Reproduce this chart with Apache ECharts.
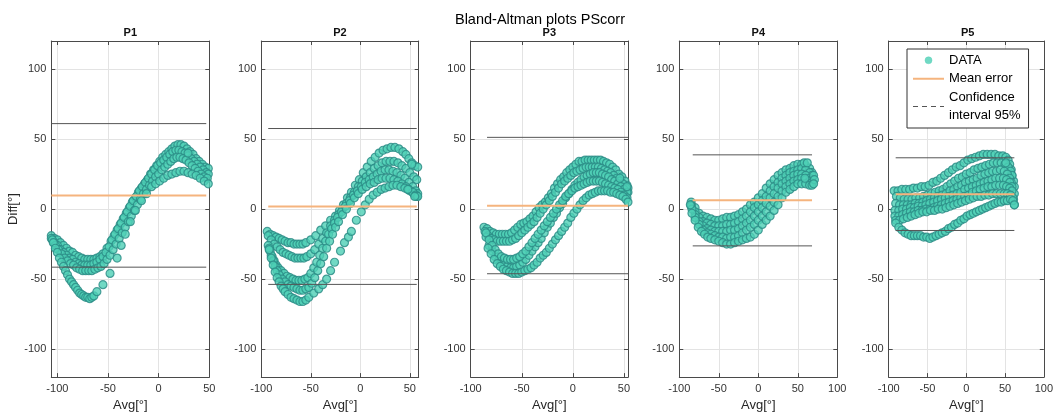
<!DOCTYPE html>
<html><head><meta charset="utf-8">
<script src="https://cdn.jsdelivr.net/npm/echarts@6/dist/echarts.min.js"></script>
<style>html,body{margin:0;padding:0;background:#fff}#c{width:1056px;height:417px}</style>
</head><body><div id="c"></div><script>
// ---------- data ----------
const mainTitle = 'Bland-Altman plots PScorr';
const panelTitles = ['P1','P2','P3','P4','P5'];
const xMin = [-106,-100,-100,-100,-100];
const xMax = [50,59,54,100,100];
const xTicks = [[-100,-50,0,50],[-100,-50,0,50],[-100,-50,0,50],[-100,-50,0,50,100],[-100,-50,0,50,100]];
const yTicks = [-100,-50,0,50,100];
const yMin = -120, yMax = 120;
const meanErr = [9.7,1.9,2.3,6.3,10.6];
const ciUpper = [61.0,57.5,51.2,38.7,36.6];
const ciLower = [-41.5,-53.8,-46.2,-26.3,-15.3];
const avgStart = [-106,-93,-84,-83,-91];
const avgEnd = [47,57,54,68,62];

const p1a = [[-106,-19],[-103,-21],[-100,-22],[-97,-24],[-94,-26],[-91,-28],[-88,-30],[-85,-31],[-82,-33],[-79,-34],[-76,-35],[-73,-36],[-70,-36],[-67,-36],[-64,-36],[-61,-35],[-58,-34],[-55,-32],[-51,-28],[-47,-23],[-44,-19],[-41,-15],[-38,-11],[-35,-7],[-32,-3],[-29,1],[-26,5],[-23,8],[-20,12],[-17,15],[-14,18],[-11,21],[-8,25],[-5,28],[-2,31],[1,34],[4,37],[7,39],[10,41],[13,43],[16,45],[19,46],[22,46],[25,45],[28,43],[31,41],[34,39],[37,36],[40,34],[43,32],[46,30],[49,29]];
const p1b = [[-106,-21],[-103,-24],[-100,-26],[-97,-29],[-94,-31],[-91,-33],[-88,-35],[-85,-36],[-82,-38],[-79,-39],[-76,-40],[-73,-40],[-70,-40],[-67,-40],[-64,-39],[-61,-38],[-58,-36],[-55,-34],[-52,-31],[-49,-27],[-46,-22],[-43,-18],[-40,-14],[-37,-10],[-34,-6],[-31,-2],[-28,2],[-25,6],[-22,9],[-19,13],[-16,16],[-13,19],[-10,22],[-7,25],[-4,28],[-1,31],[2,33],[5,35],[8,37],[11,39],[14,41],[17,42],[20,42],[23,41],[26,40],[29,38],[32,36],[35,34],[38,32],[41,30],[44,28],[47,26],[49,25]];
const p1c = [[-105,-22],[-102,-26],[-99,-29],[-96,-32],[-93,-35],[-90,-37],[-87,-39],[-84,-40],[-81,-42],[-78,-43],[-75,-44],[-72,-44],[-69,-44],[-66,-44],[-63,-43],[-60,-42],[-57,-41],[-54,-39],[-51,-36],[-48,-33],[-45,-29],[-42,-25],[-39,-21],[-36,-17],[-33,-13],[-30,-9],[-27,-5],[-24,-1],[-21,3],[-18,7],[-15,11],[-12,14],[-9,17],[-6,20],[-3,23],[0,25],[3,28],[6,30],[9,32],[12,34],[15,36],[18,37],[21,37],[24,36],[27,35],[30,33],[33,31],[36,29],[39,27],[42,25],[45,23],[48,22]];
const p1d = [[-104,-24],[-102,-28],[-100,-31],[-98,-35],[-96,-38],[-94,-41],[-92,-44],[-90,-47],[-88,-50],[-86,-52],[-84,-54],[-82,-56],[-80,-58],[-78,-60],[-76,-61],[-74,-62],[-72,-63],[-70,-63],[-68,-64],[-66,-63],[-64,-62],[-61,-59],[-55,-54],[-48,-46],[-41,-35],[-37,-26],[-33,-18],[-28,-9],[-23,-1],[-17,6],[-12,11],[-7,16],[-3,18],[1,20],[5,22],[9,24],[13,25],[17,26],[21,27],[25,27],[29,26],[33,25],[37,24],[41,22],[45,20],[49,18]];
const p1x = [[29,40]];

const p2a = [[-94,-16],[-91,-18],[-88,-19],[-85,-20],[-82,-21],[-79,-22],[-76,-23],[-73,-24],[-70,-24],[-67,-25],[-64,-25],[-61,-25],[-58,-25],[-55,-24],[-50,-22],[-45,-19],[-40,-15],[-35,-12],[-30,-8],[-25,-5],[-21,-1],[-17,3],[-13,8],[-9,12],[-5,17],[-1,21],[3,26],[7,30],[11,34],[15,37],[19,40],[23,42],[27,43],[31,44],[35,44],[39,43],[43,41],[46,39],[49,36],[52,33],[55,31],[58,30]];
const p2b = [[-93,-19],[-90,-22],[-87,-25],[-84,-27],[-81,-29],[-78,-31],[-75,-32],[-72,-33],[-69,-34],[-66,-35],[-63,-35],[-60,-35],[-57,-35],[-54,-34],[-50,-32],[-46,-29],[-42,-25],[-38,-21],[-34,-17],[-30,-12],[-26,-8],[-22,-4],[-18,0],[-14,4],[-10,8],[-6,12],[-2,16],[2,20],[6,23],[10,26],[14,29],[18,31],[22,33],[26,34],[30,34],[34,34],[38,33],[42,31],[46,29],[50,26],[54,23],[57,21]];
const p2c = [[-93,-26],[-91,-30],[-89,-34],[-87,-37],[-85,-40],[-83,-42],[-80,-44],[-77,-46],[-74,-48],[-71,-49],[-68,-50],[-65,-51],[-62,-51],[-59,-51],[-56,-50],[-53,-49],[-50,-46],[-47,-42],[-44,-38],[-41,-33],[-38,-28],[-35,-23],[-32,-18],[-29,-14],[-26,-10],[-23,-6],[-19,-2],[-15,2],[-11,6],[-7,10],[-3,13],[1,16],[5,19],[9,21],[13,23],[17,25],[21,27],[25,28],[29,28],[33,27],[37,26],[41,24],[45,22],[49,19],[53,16],[56,13],[58,11]];
const p2d = [[-92,-28],[-90,-33],[-88,-37],[-86,-41],[-84,-44],[-82,-47],[-79,-50],[-76,-52],[-73,-54],[-70,-55],[-67,-56],[-64,-57],[-61,-58],[-58,-58],[-55,-57],[-52,-56],[-49,-53],[-46,-49],[-43,-44],[-40,-39],[-37,-34],[-34,-28],[-31,-23],[-28,-18],[-25,-13],[-22,-9],[-18,-4],[-14,0],[-10,4],[-6,8],[-2,11],[2,14],[6,16],[10,18],[14,19],[18,21],[22,22],[26,22],[30,22],[34,21],[38,20],[42,18],[46,16],[50,13],[54,11],[57,9]];
const p2e = [[-92,-29],[-90,-35],[-88,-40],[-86,-45],[-84,-49],[-82,-52],[-80,-55],[-78,-57],[-76,-59],[-73,-61],[-70,-63],[-67,-64],[-64,-65],[-61,-66],[-58,-66],[-55,-65],[-52,-63],[-47,-60],[-42,-57],[-38,-54],[-34,-50],[-30,-44],[-26,-38],[-20,-30],[-16,-24],[-12,-20],[-9,-16],[-4,-8],[1,-2],[5,3],[9,7],[13,10],[17,12],[21,14],[25,15],[29,16],[33,17],[37,17],[41,16],[45,15],[49,14],[53,12],[56,10],[58,9]];
const p2x = [[48,14],[52,32],[55,9]];

const p3a = [[-87,-13],[-84,-14],[-81,-16],[-78,-17],[-75,-18],[-72,-18],[-69,-18],[-66,-18],[-63,-18],[-60,-17],[-57,-15],[-54,-13],[-51,-11],[-48,-10],[-45,-9],[-42,-7],[-39,-5],[-36,-2],[-33,1],[-30,3],[-27,5],[-24,8],[-21,11],[-18,15],[-15,18],[-12,21],[-9,23],[-6,26],[-3,28],[0,30],[3,32],[6,34],[9,34],[12,35],[15,35],[18,35],[21,35],[24,35],[27,35],[30,34],[33,33],[36,32],[39,30],[42,28],[45,25],[48,23],[51,20],[53,17],[54,15]];
const p3b = [[-86,-16],[-83,-19],[-80,-21],[-77,-22],[-74,-23],[-71,-23],[-68,-23],[-65,-23],[-62,-23],[-59,-22],[-56,-21],[-53,-19],[-50,-17],[-47,-15],[-44,-13],[-41,-11],[-38,-9],[-35,-6],[-32,-3],[-29,0],[-26,3],[-23,6],[-20,9],[-17,12],[-14,15],[-11,18],[-8,20],[-5,22],[-2,24],[1,26],[4,27],[7,28],[10,29],[13,30],[16,30],[19,30],[22,30],[25,30],[28,29],[31,28],[34,27],[37,26],[40,24],[43,22],[46,20],[49,18],[52,15],[54,12]];
const p3c = [[-85,-20],[-82,-26],[-79,-30],[-76,-34],[-73,-37],[-70,-39],[-67,-40],[-64,-41],[-61,-42],[-58,-42],[-55,-41],[-52,-40],[-49,-38],[-46,-36],[-43,-33],[-40,-30],[-37,-27],[-34,-24],[-31,-21],[-28,-17],[-25,-13],[-22,-10],[-19,-6],[-16,-3],[-13,1],[-10,4],[-7,8],[-4,11],[-1,14],[2,17],[5,19],[8,21],[11,23],[14,24],[17,25],[20,26],[23,26],[26,26],[29,25],[32,24],[35,23],[38,21],[41,20],[44,18],[47,16],[50,14],[53,12]];
const p3d = [[-85,-17],[-82,-22],[-79,-26],[-76,-29],[-73,-32],[-70,-34],[-67,-35],[-64,-36],[-61,-36],[-58,-36],[-55,-35],[-52,-34],[-49,-32],[-46,-30],[-43,-27],[-40,-24],[-37,-21],[-34,-18],[-31,-15],[-28,-12],[-25,-9],[-22,-6],[-19,-3],[-16,0],[-13,3],[-10,6],[-7,9],[-4,11],[-1,13],[2,15],[5,16],[8,17],[11,18],[14,19],[17,20],[20,20],[23,20],[26,20],[29,19],[32,18],[35,17],[38,16],[41,15],[44,14],[47,12],[50,10],[53,8]];
const p3e = [[-83,-28],[-80,-32],[-77,-36],[-74,-39],[-71,-41],[-68,-43],[-65,-44],[-62,-45],[-59,-46],[-56,-46],[-53,-46],[-50,-45],[-47,-44],[-44,-43],[-41,-42],[-38,-40],[-35,-38],[-32,-35],[-29,-33],[-26,-31],[-23,-28],[-20,-25],[-17,-22],[-14,-19],[-11,-16],[-8,-13],[-5,-10],[-2,-6],[1,-3],[4,0],[7,3],[10,6],[13,8],[16,10],[19,11],[22,12],[25,13],[28,13],[31,13],[34,13],[37,12],[40,12],[43,11],[46,10],[49,9],[52,7],[54,5]];
const p3x = [[46,22],[53,16]];

const p4a = [[-85,5],[-80,1],[-75,-3],[-70,-5],[-65,-6],[-60,-7],[-55,-8],[-50,-8],[-45,-7],[-40,-6],[-35,-6],[-30,-5],[-25,-4],[-20,-2],[-15,0],[-10,3],[-5,5],[0,8],[5,11],[10,15],[15,18],[20,21],[25,24],[30,26],[35,28],[40,29],[45,31],[50,32],[55,32],[60,31],[65,29],[68,26]];
const p4b = [[-85,3],[-80,-2],[-75,-6],[-70,-9],[-65,-10],[-60,-11],[-55,-12],[-50,-12],[-45,-12],[-40,-11],[-35,-11],[-30,-10],[-25,-9],[-20,-7],[-15,-5],[-10,-2],[-5,1],[0,3],[5,6],[10,9],[15,13],[20,16],[25,19],[30,22],[35,24],[40,26],[45,27],[50,28],[55,29],[60,28],[65,26],[68,24]];
const p4c = [[-85,2],[-80,-4],[-75,-9],[-70,-12],[-65,-14],[-60,-15],[-55,-16],[-50,-16],[-45,-16],[-40,-16],[-35,-15],[-30,-15],[-25,-14],[-20,-12],[-15,-10],[-10,-8],[-5,-5],[0,-2],[5,1],[10,4],[15,8],[20,11],[25,15],[30,18],[35,20],[40,22],[45,24],[50,25],[55,25],[60,24],[65,22],[68,21]];
const p4d = [[-84,0],[-80,-6],[-75,-11],[-70,-15],[-65,-17],[-60,-18],[-55,-19],[-50,-20],[-45,-20],[-40,-21],[-35,-20],[-30,-20],[-25,-19],[-20,-17],[-15,-15],[-10,-13],[-5,-11],[0,-8],[5,-5],[10,-2],[15,2],[20,5],[25,9],[30,13],[35,16],[40,18],[45,20],[50,21],[55,22],[60,21],[65,20],[68,19]];
const p4e = [[-86,3],[-84,-3],[-80,-8],[-76,-13],[-72,-16],[-68,-18],[-64,-20],[-60,-21],[-55,-22],[-50,-23],[-45,-24],[-40,-25],[-35,-25],[-30,-24],[-25,-23],[-20,-22],[-15,-21],[-10,-20],[-5,-18],[0,-15],[5,-11],[10,-8],[15,-5],[20,-1],[25,3],[30,8],[35,12],[40,14],[45,16],[50,18],[55,18],[60,18],[65,17],[68,17]];
const p4x = [[70,24],[71,21],[70,18],[58,33],[62,33],[59,22]];

const p5a = [[-93,13],[-88,13],[-83,14],[-78,14],[-73,14],[-68,15],[-63,15],[-58,16],[-53,16],[-48,17],[-43,19],[-38,20],[-33,22],[-28,24],[-23,26],[-18,28],[-13,30],[-8,31],[-3,33],[2,35],[7,36],[12,37],[17,38],[22,39],[27,39],[32,39],[37,39],[42,38],[47,38],[51,37],[54,35],[56,32],[58,28],[59,24],[61,20],[62,16],[62,11],[61,7],[62,3]];
const p5b = [[-90,9],[-85,8],[-80,7],[-75,7],[-70,7],[-65,8],[-60,8],[-55,9],[-50,10],[-45,11],[-40,12],[-35,13],[-30,14],[-25,16],[-20,18],[-15,20],[-10,22],[-5,23],[0,25],[5,26],[10,28],[15,29],[20,30],[25,31],[30,32],[35,33],[40,33],[45,33],[50,32],[54,30],[57,27],[59,24]];
const p5c = [[-91,4],[-86,3],[-81,3],[-76,3],[-71,3],[-66,4],[-61,4],[-56,5],[-51,6],[-46,7],[-41,8],[-36,9],[-31,10],[-26,11],[-21,13],[-16,14],[-11,16],[-6,17],[-1,19],[4,20],[9,21],[14,22],[19,24],[24,25],[29,26],[34,27],[39,27],[44,28],[49,27],[53,25],[56,22],[58,19]];
const p5d = [[-92,-1],[-87,-1],[-82,0],[-77,0],[-72,1],[-67,1],[-62,2],[-57,2],[-52,3],[-47,4],[-42,5],[-37,6],[-32,7],[-27,8],[-22,9],[-17,10],[-12,11],[-7,12],[-2,14],[3,15],[8,16],[13,17],[18,18],[23,19],[28,20],[33,21],[38,22],[43,22],[48,22],[52,21],[56,19],[59,16]];
const p5e = [[-92,-5],[-87,-5],[-82,-4],[-77,-3],[-72,-2],[-67,-2],[-62,-1],[-57,-1],[-52,0],[-47,0],[-42,1],[-37,2],[-32,3],[-27,4],[-22,5],[-17,6],[-12,7],[-7,8],[-2,9],[3,10],[8,12],[13,13],[18,14],[23,15],[28,16],[33,16],[38,17],[43,17],[48,17],[52,16],[56,15],[59,13]];
const p5f = [[-91,-8],[-86,-8],[-81,-7],[-76,-6],[-71,-5],[-66,-4],[-61,-3],[-56,-2],[-51,-2],[-46,-1],[-41,-1],[-36,0],[-31,0],[-26,1],[-21,2],[-16,3],[-11,4],[-6,5],[-1,6],[4,7],[9,8],[14,9],[19,9],[24,10],[29,10],[34,11],[39,11],[44,11],[49,11],[53,11],[57,10],[60,8]];
const p5g = [[-91,-10],[-87,-13],[-83,-15],[-79,-17],[-75,-18],[-71,-19],[-67,-19],[-63,-19],[-59,-19],[-55,-20],[-51,-20],[-47,-21],[-43,-20],[-39,-19],[-35,-18],[-31,-17],[-27,-16],[-23,-14],[-19,-13],[-15,-11],[-11,-10],[-7,-8],[-3,-7],[1,-5],[5,-4],[9,-3],[13,-2],[17,-1],[21,0],[25,1],[29,2],[33,3],[37,4],[41,5],[45,5],[49,6],[53,6],[57,7],[60,6],[62,3]];
const p5x = [[51,33]];

const panelData = [
  p1a.concat(p1b, p1c, p1d, p1x),
  p2a.concat(p2b, p2c, p2d, p2e, p2x),
  p3a.concat(p3b, p3c, p3d, p3e, p3x),
  p4a.concat(p4b, p4c, p4d, p4e, p4x),
  p5a.concat(p5b, p5c, p5d, p5e, p5f, p5g, p5x)
];

// ---------- layout / style ----------
const gridLeft = [51.3, 261.3, 470.7, 679.3, 888.7];
const gridWidth = [158, 157.4, 157.3, 158, 158];
const gridTop = 41, gridHeight = 340;
const FONT = '"Liberation Sans", Arial, Helvetica, sans-serif';
const axisCol = '#4a4a4a';
const gridCol = '#e3e3e3';
const faceCol = '#4dcfb5';
const edgeCol = '#2b8984';

const grids = [], xAxes = [], yAxes = [], series = [];
const titles = [{
  text: mainTitle, left: 540, top: 12, textAlign: 'center', padding: 0,
  textStyle: {fontFamily: FONT, fontSize: 14.5, fontWeight: 'normal', color: '#000'}
}];

for (let i = 0; i < 5; i++) {
  grids.push({left: gridLeft[i], top: gridTop, width: gridWidth[i], height: gridHeight, show: false});
  titles.push({
    text: panelTitles[i], left: gridLeft[i] + gridWidth[i] / 2, top: 27, textAlign: 'center', padding: 0,
    textStyle: {fontFamily: FONT, fontSize: 11, fontWeight: 'bold', color: '#111'}
  });
  const ls = {color: axisCol, width: 1};
  xAxes.push({
    type: 'value', gridIndex: i, position: 'bottom', min: xMin[i], max: xMax[i],
    name: 'Avg[°]', nameLocation: 'middle', nameGap: 20,
    nameTextStyle: {fontFamily: FONT, fontSize: 13, color: '#262626'},
    axisLine: {show: true, onZero: false, lineStyle: ls},
    axisTick: {show: true, inside: true, length: 4, customValues: xTicks[i], lineStyle: ls},
    axisLabel: {show: true, customValues: xTicks[i], margin: 6, fontFamily: FONT, fontSize: 11, color: '#333'},
    splitLine: {show: true, lineStyle: {color: gridCol, width: 1}}
  });
  xAxes.push({
    type: 'value', gridIndex: i, position: 'top', min: xMin[i], max: xMax[i],
    axisLine: {show: true, onZero: false, lineStyle: ls},
    axisTick: {show: true, inside: true, length: 4, customValues: xTicks[i], lineStyle: ls},
    axisLabel: {show: false}, splitLine: {show: false}
  });
  yAxes.push({
    type: 'value', gridIndex: i, position: 'left', min: yMin, max: yMax,
    name: i === 0 ? 'Diff[°]' : '', nameLocation: 'middle', nameGap: 27,
    nameTextStyle: {fontFamily: FONT, fontSize: 13, color: '#262626'},
    axisLine: {show: true, onZero: false, lineStyle: ls},
    axisTick: {show: true, inside: true, length: 4, customValues: yTicks, lineStyle: ls},
    axisLabel: {show: true, customValues: yTicks, margin: 5, fontFamily: FONT, fontSize: 11, color: '#333'},
    splitLine: {show: true, lineStyle: {color: gridCol, width: 1}}
  });
  yAxes.push({
    type: 'value', gridIndex: i, position: 'right', min: yMin, max: yMax,
    axisLine: {show: true, onZero: false, lineStyle: ls},
    axisTick: {show: true, inside: true, length: 4, customValues: yTicks, lineStyle: ls},
    axisLabel: {show: false}, splitLine: {show: false}
  });

  series.push({
    type: 'scatter', name: 'DATA', xAxisIndex: 2 * i, yAxisIndex: 2 * i,
    data: panelData[i], symbol: 'circle', symbolSize: 8,
    itemStyle: {color: faceCol, borderColor: edgeCol, borderWidth: 1.2},
    z: 2
  });
  series.push({
    type: 'line', name: 'Mean error', xAxisIndex: 2 * i, yAxisIndex: 2 * i,
    data: [[avgStart[i], meanErr[i]], [avgEnd[i], meanErr[i]]],
    symbol: 'none', lineStyle: {color: '#f5b47e', width: 2}, itemStyle: {color: '#f5b47e'}, z: 3
  });
  series.push({
    type: 'line', name: 'Confidence interval 95%', xAxisIndex: 2 * i, yAxisIndex: 2 * i,
    data: [[avgStart[i], ciUpper[i]], [avgEnd[i], ciUpper[i]]],
    symbol: 'none', lineStyle: {color: '#555', width: 1}, itemStyle: {color: '#555'}, z: 3
  });
  series.push({
    type: 'line', name: 'Confidence interval 95%', xAxisIndex: 2 * i, yAxisIndex: 2 * i,
    data: [[avgStart[i], ciLower[i]], [avgEnd[i], ciLower[i]]],
    symbol: 'none', lineStyle: {color: '#555', width: 1}, itemStyle: {color: '#555'}, z: 3
  });
}

const chart = echarts.init(document.getElementById('c'), null, {renderer: 'canvas'});
chart.setOption({
  animation: false,
  backgroundColor: '#fff',
  title: titles,
  grid: grids,
  xAxis: xAxes,
  yAxis: yAxes,
  legend: {
    orient: 'vertical', left: 907, top: 49,
    padding: [2, 8, 3, 5], itemGap: 0, itemWidth: 31, itemHeight: 7,
    backgroundColor: '#fff', borderColor: '#333', borderWidth: 1, borderRadius: 0,
    selectedMode: false,
    textStyle: {fontFamily: FONT, fontSize: 13, color: '#000', lineHeight: 18.5},
    formatter: function (n) { return n === 'Confidence interval 95%' ? 'Confidence\ninterval 95%' : n; },
    data: [
      {name: 'DATA', icon: 'circle', itemStyle: {color: faceCol, borderColor: faceCol, borderWidth: 0.5}},
      {name: 'Mean error', itemStyle: {opacity: 0}, lineStyle: {color: '#f5b47e', width: 2}},
      {name: 'Confidence interval 95%', itemStyle: {opacity: 0}, lineStyle: {color: '#555', width: 1, type: [5, 4]}}
    ]
  },
  series: series
});
</script></body></html>
